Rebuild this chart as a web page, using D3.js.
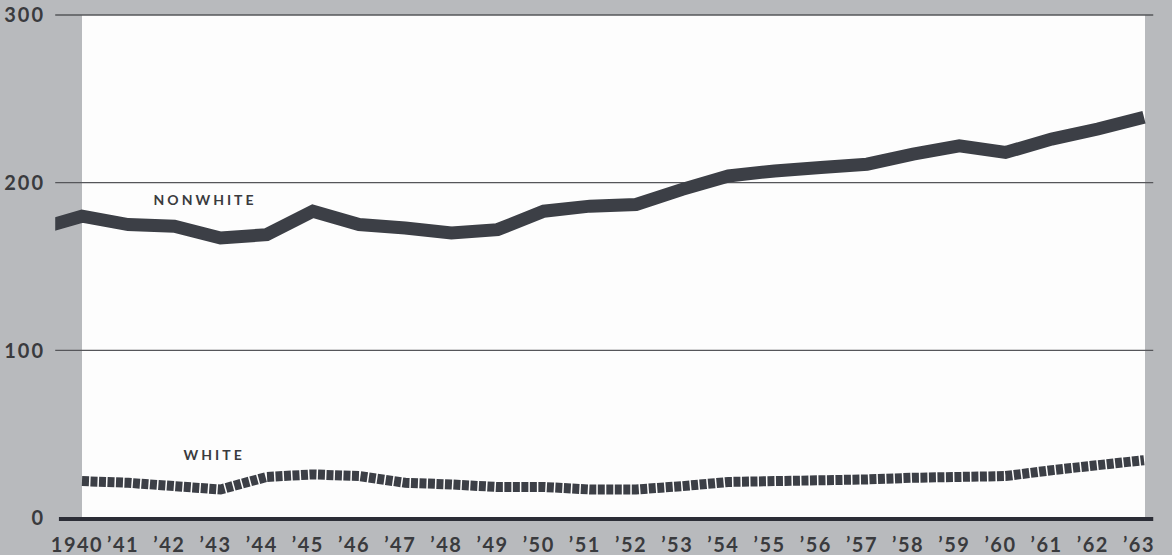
<!DOCTYPE html>
<html>
<head>
<meta charset="utf-8">
<script src="https://cdn.jsdelivr.net/npm/d3@7"></script>
<style>
  body { margin: 0; background: #b8babd; }
  svg { display: block; }
  .tick-y { font-family: Lato, "Open Sans", sans-serif; font-weight: 700; font-size: 20px; fill: #3a3b3e; letter-spacing: 2px; }
  .tick-x { font-family: Lato, "Open Sans", sans-serif; font-weight: 700; font-size: 20px; fill: #3a3b3e; letter-spacing: 1.5px; }
  .series-label { font-family: Lato, "Open Sans", sans-serif; font-weight: 700; font-size: 14px; fill: #3a3b3e; letter-spacing: 3px; }
</style>
</head>
<body>
<div id="chart"></div>
<script>

// -----------------------------------------------------------------------------
// Data (rate per 1,000)
// -----------------------------------------------------------------------------

var years = [1939, 1940, 1941, 1942, 1943, 1944, 1945, 1946, 1947, 1948, 1949, 1950, 1951,
             1952, 1953, 1954, 1955, 1956, 1957, 1958, 1959, 1960, 1961, 1962, 1963];

var nonwhite = [172, 180, 175, 174, 167, 169, 183, 175, 173, 170, 172, 183, 186,
                187, 196, 204, 207, 209, 211, 217, 222, 218, 226, 232, 239];

var white = [null, 22, 21, 19, 17, 24.5, 26, 25, 21, 20, 18.5, 18.5, 17,
             17, 19, 21.5, 22, 22.5, 23, 24, 24.5, 25, 28.5, 31.5, 34.5];

var yTicks = [0, 100, 200, 300];

var xTickYears = [1940, 1941, 1942, 1943, 1944, 1945, 1946, 1947, 1948, 1949, 1950, 1951,
                  1952, 1953, 1954, 1955, 1956, 1957, 1958, 1959, 1960, 1961, 1962, 1963];
var xTickLabels = ["1940", "\u201941", "\u201942", "\u201943", "\u201944", "\u201945", "\u201946",
                   "\u201947", "\u201948", "\u201949", "\u201950", "\u201951", "\u201952", "\u201953",
                   "\u201954", "\u201955", "\u201956", "\u201957", "\u201958", "\u201959", "\u201960",
                   "\u201961", "\u201962", "\u201963"];

// -----------------------------------------------------------------------------
// D3 Configurations
// -----------------------------------------------------------------------------

var width = 1172,
    height = 555;

var xScale = d3.scaleLinear()
    .domain([1940, 1963])
    .range([82, 1144]);

var yScale = d3.scaleLinear()
    .domain([0, 300])
    .range([518, 15]);

var svg = d3.select("#chart").append("svg")
    .attr("width", width)
    .attr("height", height);

svg.append("rect")
    .attr("width", width)
    .attr("height", height)
    .attr("fill", "#b8babd");

// white plot panel
svg.append("rect")
    .attr("x", xScale(1940))
    .attr("y", yScale(300))
    .attr("width", xScale(1963) - xScale(1940) + 1)
    .attr("height", yScale(0) - yScale(300))
    .attr("fill", "#fdfdfd");

svg.append("defs").append("clipPath")
    .attr("id", "lead-clip")
  .append("rect")
    .attr("x", xScale(1939.42))
    .attr("y", 0)
    .attr("width", width)
    .attr("height", height);

// gridlines
svg.append("g")
    .attr("class", "grid")
  .selectAll("line")
    .data(yTicks.filter(function(d) { return d > 0; }))
  .enter().append("line")
    .attr("x1", xScale(1939.42))
    .attr("x2", xScale(1963.2))
    .attr("y1", function(d) { return yScale(d); })
    .attr("y2", function(d) { return yScale(d); })
    .attr("stroke", "#55565a")
    .attr("stroke-width", 1.4);

// zero line
svg.append("line")
    .attr("x1", xScale(1939.5))
    .attr("x2", xScale(1963.2))
    .attr("y1", yScale(0) + 1)
    .attr("y2", yScale(0) + 1)
    .attr("stroke", "#2b2d36")
    .attr("stroke-width", 4);

// y labels
svg.append("g")
  .selectAll("text")
    .data(yTicks)
  .enter().append("text")
    .attr("class", "tick-y")
    .attr("x", xScale(1939.2))
    .attr("y", function(d) { return yScale(d); })
    .attr("dy", "0.36em")
    .attr("text-anchor", "end")
    .text(function(d) { return d; });

// x labels
svg.append("g")
  .selectAll("text")
    .data(xTickYears)
  .enter().append("text")
    .attr("class", "tick-x")
    .attr("x", function(d) { return xScale(d) - 5; })
    .attr("y", 552)
    .attr("text-anchor", "middle")
    .text(function(d, i) { return xTickLabels[i]; });

var line = d3.line()
    .defined(function(d) { return d != null; })
    .x(function(d, i) { return xScale(years[i]); })
    .y(function(d) { return yScale(d); });

svg.append("path")
    .datum(nonwhite)
    .attr("clip-path", "url(#lead-clip)")
    .attr("fill", "none")
    .attr("stroke", "#3c3f46")
    .attr("stroke-width", 13)
    .attr("stroke-linejoin", "miter")
    .attr("d", line);

svg.append("path")
    .datum(white)
    .attr("fill", "none")
    .attr("stroke", "#3c3f46")
    .attr("stroke-width", 10)
    .attr("stroke-dasharray", "7,1.5")
    .attr("stroke-linejoin", "miter")
    .attr("d", line);

// series labels
svg.append("text")
    .attr("class", "series-label")
    .attr("x", xScale(1941.55))
    .attr("y", yScale(200) + 22)
    .text("NONWHITE");

svg.append("text")
    .attr("class", "series-label")
    .attr("x", xScale(1942.2))
    .attr("y", yScale(24) - 18)
    .text("WHITE");

</script>
</body>
</html>
